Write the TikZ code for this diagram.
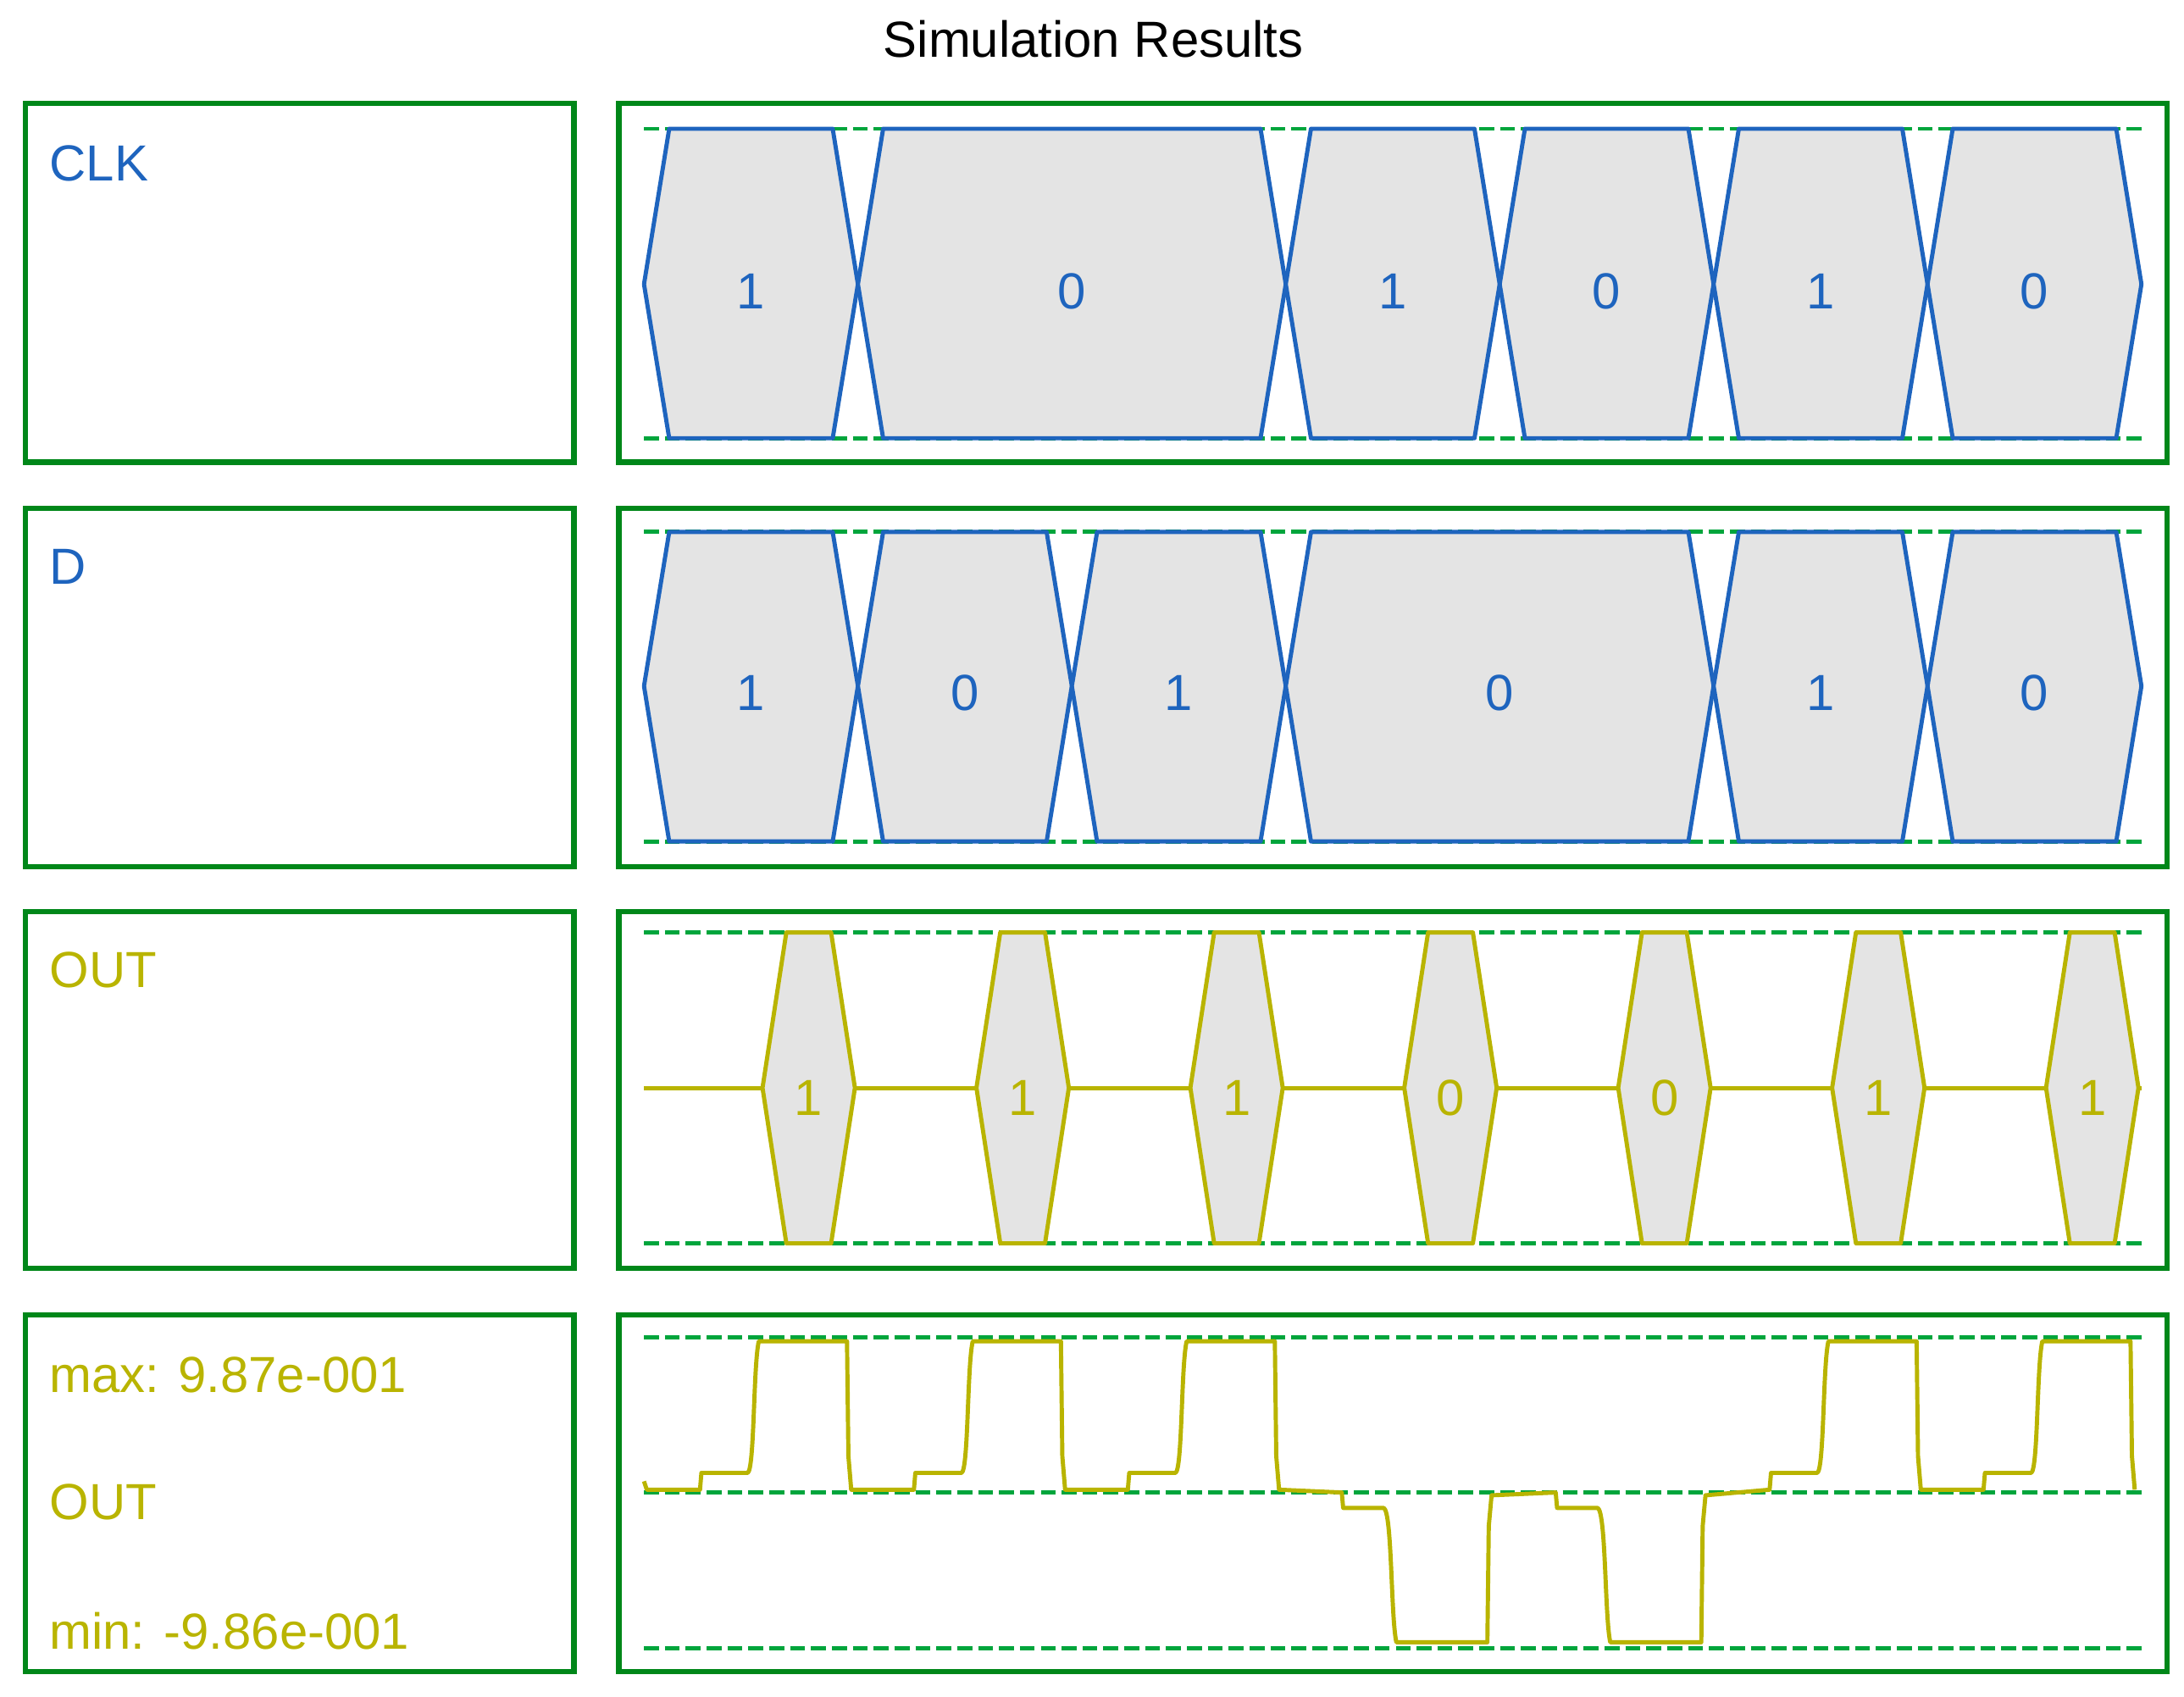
\documentclass[tikz,border=0pt]{standalone}
\usepackage{fontspec}
\setmainfont{Liberation Sans}
\definecolor{sigblue}{RGB}{30,100,190}
\definecolor{sigolive}{RGB}{185,180,0}
\definecolor{boxgreen}{RGB}{0,135,25}
\definecolor{dashgreen}{RGB}{0,165,60}
\definecolor{fillgrey}{RGB}{228,228,228}
\begin{document}
\begin{tikzpicture}[x=0.0165cm,y=-0.0165cm,
  panel/.style={draw=boxgreen,line width=1.8pt},
  guide/.style={draw=dashgreen,line width=1.4pt,dash pattern=on 5pt off 2pt},
  bus/.style={draw=sigblue,fill=fillgrey,line width=1.4pt,line join=round},
  obus/.style={draw=sigolive,fill=fillgrey,line width=1.4pt,line join=round},
  txt/.style={font=\fontsize{17}{20}\selectfont},
  lbl/.style={txt,anchor=west,inner sep=0pt}]
\useasboundingbox (0,0) rectangle (1560,1212);
\node[txt] (title) at (781,28) {Simulation Results};
% panels
\foreach \t/\b [count=\i] in {74/330,363/619,651/906,939/1194}{
  \draw[panel] (18,\t) rectangle (410,\b);
  \draw[panel] (442,\t) rectangle (1548,\b);
}
\node[lbl,text=sigblue] (lclk) at (35,117) {CLK};
\node[lbl,text=sigblue] (ld) at (35,405) {D};
\node[lbl,text=sigolive] (lout) at (35,693) {OUT};
\node[lbl,text=sigolive] (lmax) at (35,982) {max: 9.87e-001};
\node[lbl,text=sigolive] (lout2) at (35,1073) {OUT};
\node[lbl,text=sigolive] (lmin) at (35,1165) {min: -9.86e-001};
% guides
\foreach \y in {92,313,380,601,666,888,955,1066,1177}
  \draw[guide] (460,\y) -- (1530,\y);
% buses
\def\tt#1{460+152.8*#1}
\foreach \a/\bb/\v in {0/1/1,1/3/0,3/4/1,4/5/0,5/6/1,6/7/0}{
  \draw[bus] ({\tt{\a}},203) -- ({\tt{\a}+18},92) -- ({\tt{\bb}-18},92) -- ({\tt{\bb}},203) -- ({\tt{\bb}-18},313) -- ({\tt{\a}+18},313) -- cycle;
  \node[txt,text=sigblue] (c\a) at ({(\tt{\a}+\tt{\bb})/2},208) {\v};
}
\foreach \a/\bb/\v in {0/1/1,1/2/0,2/3/1,3/5/0,5/6/1,6/7/0}{
  \draw[bus] ({\tt{\a}},490) -- ({\tt{\a}+18},380) -- ({\tt{\bb}-18},380) -- ({\tt{\bb}},490) -- ({\tt{\bb}-18},601) -- ({\tt{\a}+18},601) -- cycle;
  \node[txt,text=sigblue] (d\a) at ({(\tt{\a}+\tt{\bb})/2},495) {\v};
}
% OUT pulses
\draw[sigolive,line width=1.4pt] (460,777) -- (1530,777);
\foreach \k/\v in {0/1,1/1,2/1,3/0,4/0,5/1,6/1}{
  \pgfmathsetmacro\c{460+152.8*(\k+0.77)}
  \draw[obus] ({\c-33},777) -- ({\c-16},666) -- ({\c+16},666) -- ({\c+33},777) -- ({\c+16},888) -- ({\c-16},888) -- cycle;
  \node[txt,text=sigolive] (o\k) at (\c,784) {\v};
}
% analog waveform
\draw[sigolive,line width=1.4pt,line join=round]
  (460,1058) -- (462,1064)
  \foreach \k/\v in {0/1,1/1,2/1,3/0,4/0,5/1,6/1}{
    \ifnum\v=1
      -- ({\tt{\k}+40},1064) -- ({\tt{\k}+41},1052) -- ({\tt{\k}+74},1052)
      .. controls ({\tt{\k}+79},1050) and ({\tt{\k}+78},975) .. ({\tt{\k}+82},958)
      -- ({\tt{\k}+145},958) -- ({\tt{\k}+146},1040) -- ({\tt{\k}+148},1064)
    \else
      -- ({\tt{\k}+40},1066) -- ({\tt{\k}+41},1077) -- ({\tt{\k}+70},1077)
      .. controls ({\tt{\k}+76},1080) and ({\tt{\k}+75},1155) .. ({\tt{\k}+79},1173)
      -- ({\tt{\k}+144},1173) -- ({\tt{\k}+145},1090) -- ({\tt{\k}+147},1068)
    \fi
  };
\end{tikzpicture}
\end{document}
